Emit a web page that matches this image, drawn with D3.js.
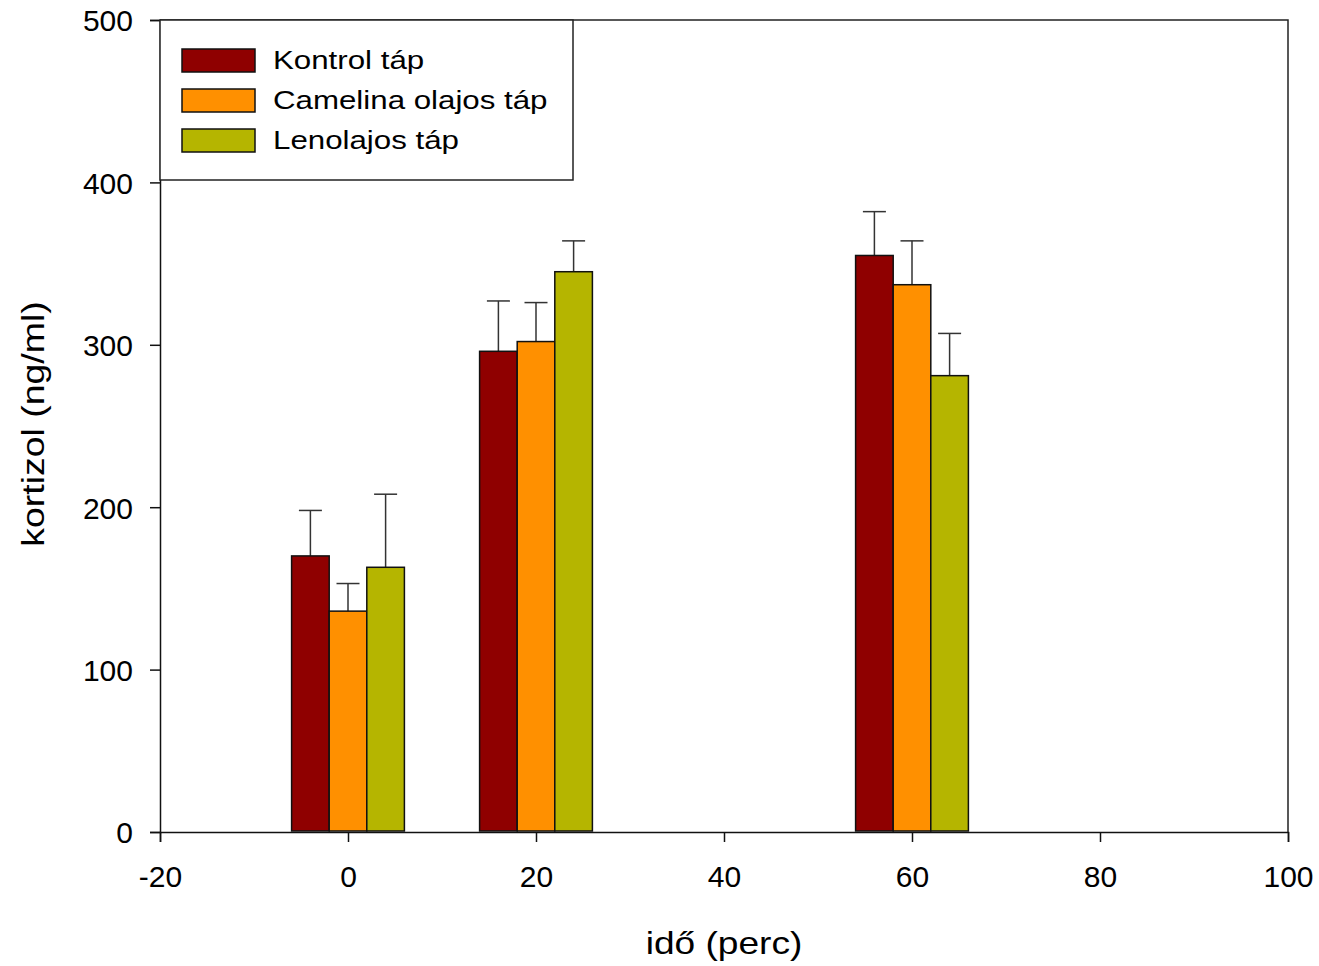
<!DOCTYPE html>
<html>
<head>
<meta charset="utf-8">
<script src="https://cdn.jsdelivr.net/npm/d3@7"></script>
<style>
  body { margin: 0; background: #fff; }
  text { font-family: "Liberation Sans", Arial, sans-serif; fill: #000; }
</style>
</head>
<body>
<div id="chart"></div>
<script>
// data
var times = [0, 20, 60];
var seriesNames = ["Kontrol táp", "Camelina olajos táp", "Lenolajos táp"];
var kontrol = [170, 296, 355];
var kontrolSE = [28, 31, 27];
var camelina = [136, 302, 337];
var camelinaSE = [17, 24, 27];
var leno = [163, 345, 281];
var lenoSE = [45, 19, 26];
var xTicks = [-20, 0, 20, 40, 60, 80, 100];
var yTicks = [0, 100, 200, 300, 400, 500];
var colors = ["#8f0000", "#ff9000", "#b5b500"];

var width = 1319, height = 966;
var margin = {left: 160, right: 31, top: 20, bottom: 134};
var w = width - margin.left - margin.right;
var h = height - margin.top - margin.bottom;

var svg = d3.select("#chart").append("svg")
    .attr("width", width).attr("height", height);

var x = d3.scaleLinear().domain([-20, 100]).range([0, w]);
var y = d3.scaleLinear().domain([0, 500]).range([h, 0]);

var g = svg.append("g")
    .attr("transform", "translate(" + margin.left + "," + margin.top + ")");

// frame (top + right)
g.append("path")
    .attr("d", "M0,0H" + w + "V" + h)
    .attr("fill", "none").attr("stroke", "#222").attr("stroke-width", 1.5);

var series = [
  {name: seriesNames[0], vals: kontrol, se: kontrolSE, off: -4},
  {name: seriesNames[1], vals: camelina, se: camelinaSE, off: 0},
  {name: seriesNames[2], vals: leno, se: lenoSE, off: 4}
];

var barW = 4; // in x units

series.forEach(function(s, i) {
  var grp = g.append("g");
  var d = times.map(function(t, j) { return {t: t, v: s.vals[j], e: s.se[j]}; });

  // error bars (upper only)
  grp.selectAll("line.err").data(d).enter().append("line")
      .attr("x1", function(d) { return x(d.t + s.off); })
      .attr("x2", function(d) { return x(d.t + s.off); })
      .attr("y1", function(d) { return y(d.v); })
      .attr("y2", function(d) { return y(d.v + d.e); })
      .attr("stroke", "#333").attr("stroke-width", 1.5);
  grp.selectAll("line.cap").data(d).enter().append("line")
      .attr("x1", function(d) { return x(d.t + s.off) - 11.5; })
      .attr("x2", function(d) { return x(d.t + s.off) + 11.5; })
      .attr("y1", function(d) { return y(d.v + d.e); })
      .attr("y2", function(d) { return y(d.v + d.e); })
      .attr("stroke", "#333").attr("stroke-width", 1.5);

  grp.selectAll("rect").data(d).enter().append("rect")
      .attr("x", function(d) { return x(d.t + s.off - barW / 2); })
      .attr("width", function(d) { return x(barW) - x(0); })
      .attr("y", function(d) { return y(d.v); })
      .attr("height", function(d) { return y(0) - y(d.v) - 1; })
      .attr("fill", colors[i])
      .attr("stroke", "#111").attr("stroke-width", 1.5);
});

// axes
var xAxis = d3.axisBottom(x).tickValues(xTicks).tickSize(10).tickPadding(24)
    .tickFormat(d3.format("d"));
var yAxis = d3.axisLeft(y).tickValues(yTicks).tickSize(10).tickPadding(17);

var gx = g.append("g").attr("transform", "translate(0," + h + ")").call(xAxis);
var gy = g.append("g").call(yAxis);
[gx, gy].forEach(function(a) {
  a.select(".domain").attr("stroke", "#111").attr("stroke-width", 1.5);
  a.selectAll(".tick line").attr("stroke", "#111").attr("stroke-width", 1.5);
  a.selectAll("text").style("font-size", "30px").attr("fill", "#000");
});
gx.selectAll("text").text(function(d) { return d < 0 ? "-" + Math.abs(d) : d; });
gy.selectAll(".tick text").attr("dy", "0.36em");

// axis titles (the original font is a bit wider than Arial)
svg.append("text")
    .attr("transform", "translate(" + (margin.left + x(40)) + ",954) scale(1.16,1)")
    .attr("text-anchor", "middle")
    .style("font-size", "32px")
    .text("idő (perc)");

svg.append("text")
    .attr("transform", "translate(44," + (margin.top + h / 2 - 2) + ") rotate(-90) scale(1.17,1)")
    .attr("text-anchor", "middle")
    .style("font-size", "32px")
    .text("kortizol (ng/ml)");

// legend
var leg = g.append("g");
leg.append("rect")
    .attr("x", 0).attr("y", 0).attr("width", 413).attr("height", 160)
    .attr("fill", "#fff").attr("stroke", "#222").attr("stroke-width", 1.5);
seriesNames.forEach(function(n, i) {
  leg.append("rect")
      .attr("x", 22).attr("y", 29 + i * 40).attr("width", 73).attr("height", 23)
      .attr("fill", colors[i]).attr("stroke", "#111").attr("stroke-width", 1.5);
  leg.append("text")
      .attr("transform", "translate(113," + (49 + i * 40) + ") scale(1.18,1)")
      .style("font-size", "26.5px")
      .text(n);
});
</script>
</body>
</html>
